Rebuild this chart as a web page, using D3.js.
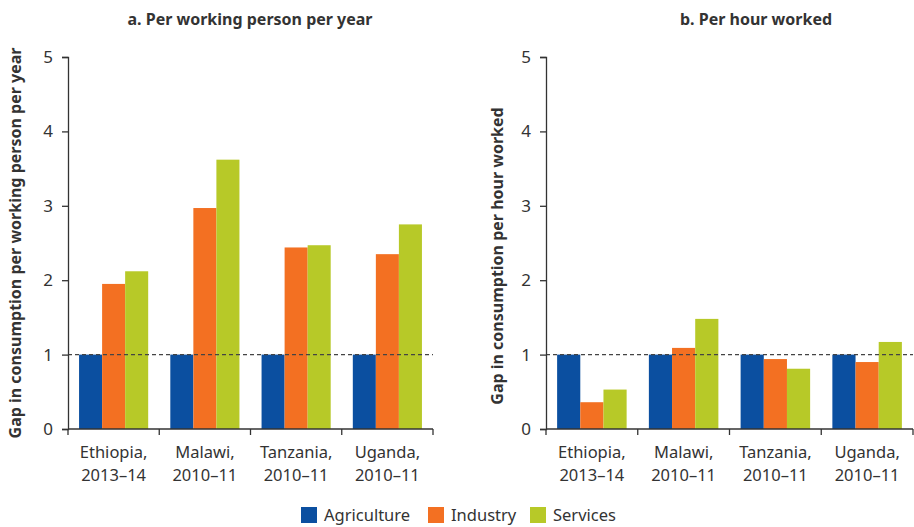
<html lang="en">

<head>
  <meta charset="utf-8">
  <title>Gap in consumption by sector</title>
  <script type="text/javascript" src="https://d3js.org/d3.v7.min.js"></script>
  <style>
    body { margin: 0; background: #fff; }
    text { font-family: "Noto Sans", "Open Sans", sans-serif; fill: #333; }
  </style>
</head>

<body>
  <svg width="914" height="527"></svg>
  <script>
    const countries = ["Ethiopia,|2013–14", "Malawi,|2010–11", "Tanzania,|2010–11", "Uganda,|2010–11"];
    const sectors = ["Agriculture", "Industry", "Services"];
    const colors = ["#0b4fa0", "#f37022", "#b7c928"];
    const yTicks = [0, 1, 2, 3, 4, 5];

    // panel a: per working person per year
    const perPerson = [
      [1, 1.95, 2.12],
      [1, 2.97, 3.62],
      [1, 2.44, 2.47],
      [1, 2.35, 2.75]
    ];
    // panel b: per hour worked
    const perHour = [
      [1, 0.36, 0.53],
      [1, 1.09, 1.48],
      [1, 0.94, 0.81],
      [1, 0.90, 1.17]
    ];

    const svg = d3.select("svg");

    function panel(opts) {
      const g = svg.append("g");
      const x0 = d3.scaleBand().domain(countries).range([opts.x0, opts.x1]);
      const x1 = d3.scaleBand().domain(sectors).range([0, x0.bandwidth()]).paddingOuter(0.48);
      const y = d3.scaleLinear().domain([0, 5]).range([429, 57]);

      g.append("text")
        .attr("x", opts.titleX).attr("y", 25)
        .attr("text-anchor", "middle")
        .style("font-size", "16px").style("font-weight", "bold")
        .text(opts.title);

      g.append("text")
        .attr("transform", `translate(${opts.labelX},${opts.labelY}) rotate(-90)`)
        .attr("text-anchor", "middle")
        .style("font-size", "16px").style("font-weight", "bold")
        .text(opts.ylabel);

      // bars
      g.selectAll(".grp")
        .data(opts.values)
        .enter()
        .append("g")
        .attr("transform", (d, i) => `translate(${x0(countries[i])},0)`)
        .selectAll("rect")
        .data(d => d)
        .enter()
        .append("rect")
        .attr("x", (d, j) => x1(sectors[j]))
        .attr("width", x1.bandwidth())
        .attr("y", d => y(d))
        .attr("height", d => y(0) - y(d))
        .attr("fill", (d, j) => colors[j]);

      // reference line at 1
      g.append("line")
        .attr("x1", opts.x0).attr("x2", opts.x1)
        .attr("y1", y(1)).attr("y2", y(1))
        .attr("stroke", "#444").attr("stroke-width", 1.2)
        .attr("stroke-dasharray", "4,3");

      // y axis
      const yAxis = g.append("g")
        .attr("transform", `translate(${opts.x0},0)`)
        .call(d3.axisLeft(y).tickValues(yTicks).tickSize(6).tickPadding(9).tickFormat(d3.format("d")));
      yAxis.select(".domain").attr("stroke", "#333").attr("stroke-width", 1.3);
      yAxis.selectAll(".tick line").attr("stroke", "#333").attr("stroke-width", 1.3);
      yAxis.selectAll(".tick text").style("font-size", "17px").style("fill", "#333");

      // x axis with ticks at category boundaries
      const bounds = countries.map(c => x0(c)).concat([opts.x1]);
      g.append("line")
        .attr("x1", opts.x0).attr("x2", opts.x1)
        .attr("y1", y(0)).attr("y2", y(0))
        .attr("stroke", "#333").attr("stroke-width", 1.3);
      g.selectAll(".xt")
        .data(bounds)
        .enter()
        .append("line")
        .attr("x1", d => d).attr("x2", d => d)
        .attr("y1", y(0)).attr("y2", y(0) + 6)
        .attr("stroke", "#333").attr("stroke-width", 1.3);
      const lab = g.selectAll(".xl")
        .data(countries)
        .enter()
        .append("text")
        .attr("text-anchor", "middle")
        .style("font-size", "16.5px");
      lab.append("tspan")
        .attr("x", d => x0(d) + x0.bandwidth() / 2).attr("y", 458)
        .text(d => d.split("|")[0]);
      lab.append("tspan")
        .attr("x", d => x0(d) + x0.bandwidth() / 2).attr("y", 481)
        .text(d => d.split("|")[1]);
    }

    panel({
      x0: 68, x1: 433, values: perPerson,
      title: "a. Per working person per year", titleX: 250,
      ylabel: "Gap in consumption per working person per year", labelX: 21, labelY: 243
    });
    panel({
      x0: 546, x1: 913, values: perHour,
      title: "b. Per hour worked", titleX: 756,
      ylabel: "Gap in consumption per hour worked", labelX: 503, labelY: 256
    });

    // legend
    const legX = [301, 428, 530];
    const leg = svg.append("g");
    leg.selectAll("rect")
      .data(sectors)
      .enter()
      .append("rect")
      .attr("x", (d, i) => legX[i]).attr("y", 507)
      .attr("width", 16).attr("height", 16)
      .attr("fill", (d, i) => colors[i]);
    leg.selectAll("text")
      .data(sectors)
      .enter()
      .append("text")
      .attr("x", (d, i) => legX[i] + 23).attr("y", 521)
      .style("font-size", "16.5px")
      .text(d => d);
  </script>
</body>

</html>
